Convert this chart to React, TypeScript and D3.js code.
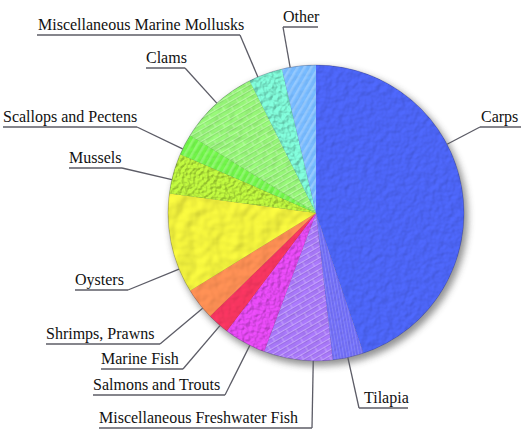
import React from "react";
import * as d3 from "d3";

// aquaculture production share by species group (%)
const categories = [
  "Carps",
  "Tilapia",
  "Miscellaneous Freshwater Fish",
  "Salmons and Trouts",
  "Marine Fish",
  "Shrimps, Prawns",
  "Oysters",
  "Mussels",
  "Scallops and Pectens",
  "Clams",
  "Miscellaneous Marine Mollusks",
  "Other",
];
const shares = [44.8, 3.4, 7.5, 4.6, 2.4, 3.5, 10.9, 4.4, 2.3, 8.8, 3.7, 3.7];

const colors = [
  "#4b63f2",
  "#6f6cf2",
  "#a676f6",
  "#e048ee",
  "#f2345e",
  "#f78c52",
  "#eeee3c",
  "#b8ee3c",
  "#6ef046",
  "#94f276",
  "#7cf2d2",
  "#74b6fa",
];

// texture per slice: noise frequency, bump strength, overlay pattern
const textures = [
  { freq: 0.16, bump: 1.6, overlay: null },
  { freq: 0.3, bump: 0.8, overlay: "fine" },
  { freq: 0.1, bump: 1.0, overlay: "brick" },
  { freq: 0.25, bump: 3.0, overlay: null },
  { freq: 0.14, bump: 1.2, overlay: null },
  { freq: 0.1, bump: 1.6, overlay: null },
  { freq: 0.07, bump: 3.5, overlay: null },
  { freq: 0.28, bump: 4.5, overlay: null },
  { freq: 0.2, bump: 0.8, overlay: "stripe" },
  { freq: 0.12, bump: 1.4, overlay: "brick" },
  { freq: 0.22, bump: 4.0, overlay: null },
  { freq: 0.2, bump: 0.6, overlay: "stripe" },
];

// label layout: text start, baseline, underline extent, which end joins the leader
const labels = [
  { x: 481, y: 122, x0: 480, x1: 521, end: "start" },
  { x: 364, y: 403, x0: 359, x1: 408, end: "start" },
  { x: 99, y: 423, x0: 99, x1: 312, end: "end" },
  { x: 93, y: 390, x0: 93, x1: 225, end: "end" },
  { x: 101, y: 364, x0: 101, x1: 183, end: "end" },
  { x: 46, y: 339, x0: 46, x1: 160, end: "end" },
  { x: 75, y: 285, x0: 75, x1: 128, end: "end" },
  { x: 69, y: 163, x0: 69, x1: 122, end: "end" },
  { x: 3, y: 122, x0: 3, x1: 137, end: "end" },
  { x: 146, y: 63, x0: 146, x1: 185, end: "end" },
  { x: 38, y: 30, x0: 37, x1: 240, end: "end" },
  { x: 283, y: 22, x0: 283, x1: 318, end: "start" },
];

const W = 528;
const H = 437;
const cx = 316;
const cy = 213;
const R = 148;

export default function App() {
  const pie = d3.pie<number>().sort(null).value((d) => d);
  const arcs = pie(shares);
  const arc = d3.arc<d3.PieArcDatum<number>>().innerRadius(0).outerRadius(R);

  return (
    <svg
      width={W}
      height={H}
      style={{ position: "absolute", left: 0, top: 0, background: "#fff" }}
    >
      <defs>
        <filter id="shadow" x="-20%" y="-20%" width="140%" height="140%">
          <feGaussianBlur stdDeviation="3.5" />
        </filter>
        {textures.map((t, i) => (
          <filter
            key={i}
            id={`tex${i}`}
            filterUnits="userSpaceOnUse"
            x={-R - 4}
            y={-R - 4}
            width={2 * R + 8}
            height={2 * R + 8}
          >
            <feTurbulence
              type="fractalNoise"
              baseFrequency={t.freq}
              numOctaves={2}
              seed={i + 3}
              result="noise"
            />
            <feDiffuseLighting
              in="noise"
              surfaceScale={t.bump}
              lightingColor="#ffffff"
              result="light"
            >
              <feDistantLight azimuth={225} elevation={50} />
            </feDiffuseLighting>
            <feComposite
              in="light"
              in2="SourceGraphic"
              operator="arithmetic"
              k1={0.55}
              k2={0}
              k3={0.6}
              k4={0}
            />
          </filter>
        ))}
        <pattern
          id="stripe"
          patternUnits="userSpaceOnUse"
          width={6}
          height={6}
          patternTransform="rotate(-60)"
        >
          <rect width={6} height={2.5} fill="#ffffff" opacity={0.22} />
        </pattern>
        <pattern
          id="fine"
          patternUnits="userSpaceOnUse"
          width={3}
          height={3}
          patternTransform="rotate(80)"
        >
          <rect width={3} height={1} fill="#ffffff" opacity={0.15} />
        </pattern>
        <pattern
          id="brick"
          patternUnits="userSpaceOnUse"
          width={16}
          height={10}
          patternTransform="rotate(-30)"
        >
          <path
            d="M0 0.5H16M0 5.5H16M4 0.5V5.5M12 5.5V10"
            stroke="#ffffff"
            strokeOpacity={0.3}
            strokeWidth={1}
            fill="none"
          />
          <path
            d="M0 1.5H16M0 6.5H16"
            stroke="#000000"
            strokeOpacity={0.08}
            strokeWidth={1}
            fill="none"
          />
        </pattern>
      </defs>

      {/* soft shadow behind the pie */}
      <circle
        cx={cx + 3}
        cy={cy + 4}
        r={R + 1}
        fill="#3a3a3a"
        opacity={0.55}
        filter="url(#shadow)"
      />

      <g transform={`translate(${cx},${cy})`}>
        {arcs.map((a, i) => (
          <g key={categories[i]}>
            <path d={arc(a) || ""} fill={colors[i]} filter={`url(#tex${i})`} />
            {textures[i].overlay && (
              <path d={arc(a) || ""} fill={`url(#${textures[i].overlay})`} />
            )}
          </g>
        ))}
        <circle r={R} fill="none" stroke="#3c3c5a" strokeOpacity={0.35} strokeWidth={0.8} />
      </g>

      {/* labels with underline and radial leader */}
      {labels.map((l, i) => {
        const px = l.end === "start" ? l.x0 : l.x1;
        const py = l.y + 5;
        const dx = px - cx;
        const dy = py - cy;
        const len = Math.hypot(dx, dy);
        const ex = cx + (dx / len) * R;
        const ey = cy + (dy / len) * R;
        return (
          <g key={categories[i]}>
            <line x1={l.x0} x2={l.x1} y1={py} y2={py} stroke="#5c5c66" strokeWidth={1.3} />
            <line x1={px} y1={py} x2={ex} y2={ey} stroke="#5c5c66" strokeWidth={1.3} />
            <text
              x={l.x}
              y={l.y}
              fontFamily="'Liberation Serif', 'Times New Roman', serif"
              fontSize={16}
              fill="#111"
            >
              {categories[i]}
            </text>
          </g>
        );
      })}
    </svg>
  );
}
